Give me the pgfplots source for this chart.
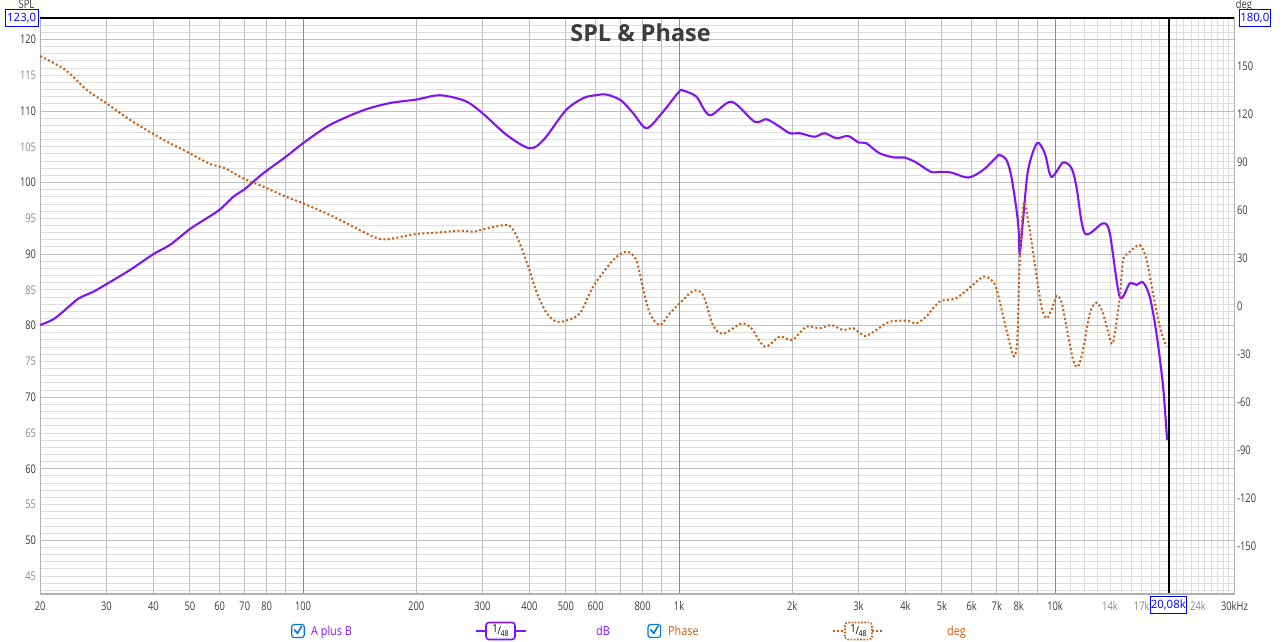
\documentclass[border=0pt]{standalone}
\usepackage{fontspec}
\setmainfont{Open Sans}[FakeStretch=0.87]
\newfontfamily\titlefont{Open Sans}
\newfontfamily\tickfam{Open Sans}[FakeStretch=0.78]
\newfontfamily\boxfam{Open Sans}
\usepackage{pgfplots}
\pgfplotsset{compat=1.18}
\definecolor{spl}{RGB}{127,20,245}
\definecolor{ph}{RGB}{204,92,16}
\definecolor{gL}{RGB}{222,222,222}
\definecolor{gM}{RGB}{192,192,192}
\definecolor{gD}{RGB}{138,138,138}
\definecolor{lab}{RGB}{60,60,60}
\definecolor{labL}{RGB}{136,136,136}
\definecolor{cb}{RGB}{0,120,215}
\definecolor{frm}{RGB}{176,176,176}
\newcommand{\tfont}{\tickfam\fontsize{12}{13}\selectfont}
\newcommand{\bfont}{\boxfam\fontsize{11.5}{12}\selectfont}
\begin{document}
\begin{tikzpicture}
\useasboundingbox (0,0) rectangle (1286bp,642bp);
% light grid
\begin{axis}[at={(40.2bp,48bp)}, anchor=south west, scale only axis,
  width=1194.2bp, height=576bp, xmode=log, xmin=20, xmax=30000, ymin=42.5, ymax=123,
  axis line style={draw=none}, tick style={draw=none}, major tick length=0pt,
  xticklabels={}, yticklabels={}, xmajorgrids, ymajorgrids,
  xtick={11000,12000,13000,14000,15000,16000,17000,18000,19000,20000,21000,22000,23000,24000,25000,26000,27000,28000,29000},
  ytick={43,44,...,122},
  major grid style={draw=gL, line width=1bp}]
\end{axis}
% medium grid
\begin{axis}[at={(40.2bp,48bp)}, anchor=south west, scale only axis,
  width=1194.2bp, height=576bp, xmode=log, xmin=20, xmax=30000, ymin=42.5, ymax=123,
  axis line style={draw=none}, tick style={draw=none}, major tick length=0pt,
  xticklabels={}, yticklabels={}, xmajorgrids, ymajorgrids,
  xtick={30,40,50,60,70,80,90,200,300,400,500,600,700,800,900,2000,3000,4000,5000,6000,7000,8000,9000},
  ytick={50,60,...,120},
  major grid style={draw=gM, line width=1bp}]
\end{axis}
% dark grid and cursor
\begin{axis}[at={(40.2bp,48bp)}, anchor=south west, scale only axis,
  width=1194.2bp, height=576bp, xmode=log, xmin=20, xmax=30000, ymin=42.5, ymax=123,
  axis line style={draw=none}, tick style={draw=none}, major tick length=0pt,
  xticklabels={}, yticklabels={}, xmajorgrids,
  xtick={100,1000,10000}, ytick=\empty,
  extra x ticks={20080}, extra x tick labels={},
  extra x tick style={major grid style={draw=black, line width=1.3bp}},
  major grid style={draw=gD, line width=1bp}]
\end{axis}
% main SPL axis
\begin{axis}[at={(40.2bp,48bp)}, anchor=south west, scale only axis,
  width=1194.2bp, height=576bp, xmode=log, xmin=20, xmax=30000, ymin=42.5, ymax=123,
  axis line style={draw=frm, line width=1.3bp},
  tick style={draw=none}, major tick length=0pt,
  xtick={20,30,40,50,60,70,80,100,200,300,400,500,600,800,1000,2000,3000,4000,5000,6000,7000,8000,10000,30000},
  xticklabels={20,30,40,50,60,70,80,100,200,300,400,500,600,800,1k,2k,3k,4k,5k,6k,7k,8k,10k,30kHz},
  extra x ticks={14000,17000,24000}, extra x tick labels={14k,17k,24k},
  extra x tick style={xticklabel style={text=labL}},
  ytick={50,60,...,120}, yticklabels={50,60,70,80,90,100,110,120},
  extra y ticks={45,55,...,115}, extra y tick labels={45,55,65,75,85,95,105,115},
  extra y tick style={yticklabel style={text=labL}},
  xticklabel style={anchor=base, yshift=-16.9bp, inner sep=0pt, font=\tfont, text=lab},
  yticklabel style={anchor=east, xshift=-4bp, inner sep=0pt, font=\tfont, text=lab},
]
\addplot[spl, line width=2.1bp, smooth] coordinates {
(20,80.1)(21.7,80.9)(23.4,82.3)(25.3,83.8)(27.7,84.75)(30,85.8)(34.7,87.8)(40,90.0)(44.3,91.3)(50,93.5)(55,94.9)(60,96.2)(65.2,98.0)(70,99.1)(78.4,101.3)(90,103.6)(100,105.5)(117.8,108.05)(144.6,110.1)(170,111.1)(200,111.6)(231,112.2)(270,111.4)(300,109.7)(348,106.65)(400,104.8)(436,105.95)(500,110.1)(556,111.8)(600,112.2)(641,112.3)(700,111.5)(755,109.7)(819,107.6)(900,109.7)(1000,112.7)(1025,112.85)(1112,112.0)(1207,109.4)(1378,111.3)(1589,108.5)(1708,108.85)(1852,107.8)(1970,106.9)(2093,106.9)(2293,106.4)(2437,106.9)(2621,106.2)(2816,106.5)(3003,105.6)(3147,105.5)(3412,104.1)(3739,103.5)(3978,103.5)(4272,102.8)(4678,101.5)(4979,101.5)(5295,101.4)(5877,100.7)(6436,101.75)(7000,103.6)(7126,103.85)(7427,103.15)(7656,100.8)(7897,96.2)(8000,93.4)(8057,90.1)(8221,94.8)(8477,101.75)(8956,105.5)(9389,104.1)(9780,100.8)(10500,102.8)(11060,102.0)(11400,99.4)(12000,92.9)(13415,94.3)(13980,92.9)(14860,84.05)(15800,85.9)(16460,85.7)(17140,86.05)(17860,84.05)(18610,78.9)(19380,71.5)(19860,64.0)};
\draw[black, line width=1.3bp] (rel axis cs:0,1) -- (rel axis cs:1,1);
\end{axis}
% phase axis
\begin{axis}[at={(40.2bp,48bp)}, anchor=south west, scale only axis,
  width=1194.2bp, height=576bp, xmode=log, xmin=20, xmax=30000, ymin=-180, ymax=180,
  axis x line=none, axis y line*=right,
  axis line style={draw=none}, tick style={draw=none}, major tick length=0pt,
  ytick={-150,-120,...,150}, yticklabels={-150,-120,-90,-60,-30,0,30,60,90,120,150},
  yticklabel style={anchor=west, xshift=2.5bp, inner sep=0pt, font=\tfont, text=lab}]
\addplot[ph, line width=2bp, smooth, dash pattern=on 2bp off 2.4bp] coordinates {
(20,156.25)(23,148.6)(24.7,142.3)(26.6,135)(30,126.7)(34.7,116.25)(40,107.5)(44.3,101.7)(50,95.4)(56.6,88.75)(62,86.1)(69.3,79.8)(78.4,74.6)(90,68.3)(100,64.2)(117.8,56.9)(133.4,50.6)(153.9,43.3)(167,41.7)(200,45)(231,46.0)(262,47.1)(286,46.4)(300,47.9)(345,50.6)(360,48.6)(377,39.2)(400,22.5)(419,7.9)(445,-4.6)(472,-9.8)(500,-9.2)(545,-4.6)(591,12.1)(668,28.75)(725,34.0)(770,28.75)(800,12.1)(836,-4.6)(889,-11.9)(945,-4.6)(1004,1.7)(1090,9.4)(1158,6.9)(1231,-12)(1309,-17.3)(1465,-11)(1558,-13.9)(1690,-25.4)(1852,-19.2)(2000,-21.25)(2181,-12.9)(2366,-13.9)(2543,-11.9)(2729,-15)(2904,-13.9)(3117,-18.75)(3346,-15)(3630,-9.8)(4026,-9.2)(4272,-10.8)(4541,-6.7)(4928,2.7)(5444,4.8)(5930,11.5)(6436,18.3)(6775,16.25)(7000,10)(7350,-10.8)(7656,-27.5)(7813,-31.25)(7943,-19.2)(8057,28.75)(8256,64.2)(8477,53.75)(8830,26.7)(9200,-0.4)(9486,-7.7)(9780,-2.5)(10090,6.25)(10400,2.7)(10720,-12.9)(11170,-33.75)(11510,-37.9)(11870,-27.5)(12370,-4.6)(12890,2.1)(13415,-4.6)(14125,-23.3)(14415,-17)(14860,5.8)(15170,28.75)(15640,32.9)(16800,38.1)(17510,28.75)(18220,7.9)(18990,-12.9)(19780,-25.4)};
\end{axis}
% decorations
\begin{scope}[x=1bp, y=1bp]
\node[anchor=base, text=lab, font=\titlefont\bfseries\fontsize{23.5}{24}\selectfont] at (640.5,600) {SPL \& Phase};
\node[anchor=base, text=lab, font=\tfont] at (26.5,633.5) {SPL};
\node[anchor=base, text=lab, font=\tfont] at (1244,633.5) {deg};
\draw[blue, line width=1bp, fill=white] (5,615.5) rectangle (38.3,632);
\node[text=blue, font=\bfont, inner sep=0pt] at (21.7,623.7) {123,0};
\draw[blue, line width=1bp, fill=white] (1239,615.5) rectangle (1270.7,632);
\node[text=blue, font=\bfont, inner sep=0pt] at (1254.8,623.7) {180,0};
\draw[blue, line width=1bp, fill=white] (1150,28.7) rectangle (1186.7,45);
\node[text=blue, font=\bfont, inner sep=0pt] at (1168.3,36.8) {20,08k};
% legend
\draw[cb, line width=1.2bp, rounded corners=2.5bp] (291.7,4.5) rectangle (304.3,17.5);
\draw[cb, line width=1.6bp] (294,12.5) -- (297.5,8.8) -- (301.8,16);
\node[anchor=base west, text=spl, font=\fontsize{12.5}{13}\selectfont, inner sep=0pt] at (311,7) {A plus B};
\draw[spl, line width=2bp] (476,11) -- (486,11) (515,11) -- (525.7,11);
\draw[spl, line width=1.6bp, rounded corners=3bp, fill=white] (486,2.5) rectangle (515,19.5);
\node[text=black, inner sep=0pt] at (500.5,11) {\fontsize{11}{11}\selectfont\raisebox{1.5bp}{1}\kern-0.3bp/\kern-0.3bp\raisebox{-2.5bp}{\fontsize{8}{8}\selectfont 48}};
\node[anchor=base west, text=spl, font=\fontsize{12.5}{13}\selectfont, inner sep=0pt] at (596,7) {dB};
\draw[cb, line width=1.2bp, rounded corners=2.5bp] (648,4.5) rectangle (660.6,17.5);
\draw[cb, line width=1.6bp] (650.3,12.5) -- (653.8,8.8) -- (658.1,16);
\node[anchor=base west, text=ph, font=\fontsize{12.5}{13}\selectfont, inner sep=0pt] at (668,7) {Phase};
\draw[ph, line width=2bp, dash pattern=on 2bp off 2bp] (833,11) -- (845,11) (872,11) -- (882,11);
\draw[ph, line width=1.6bp, dash pattern=on 1.6bp off 1.6bp, rounded corners=3bp, fill=white] (845,2.5) rectangle (872,19.5);
\node[text=black, inner sep=0pt] at (858.5,11) {\fontsize{11}{11}\selectfont\raisebox{1.5bp}{1}\kern-0.3bp/\kern-0.3bp\raisebox{-2.5bp}{\fontsize{8}{8}\selectfont 48}};
\node[anchor=base west, text=ph, font=\fontsize{12.5}{13}\selectfont, inner sep=0pt] at (947,7) {deg};
\end{scope}
\end{tikzpicture}
\end{document}
